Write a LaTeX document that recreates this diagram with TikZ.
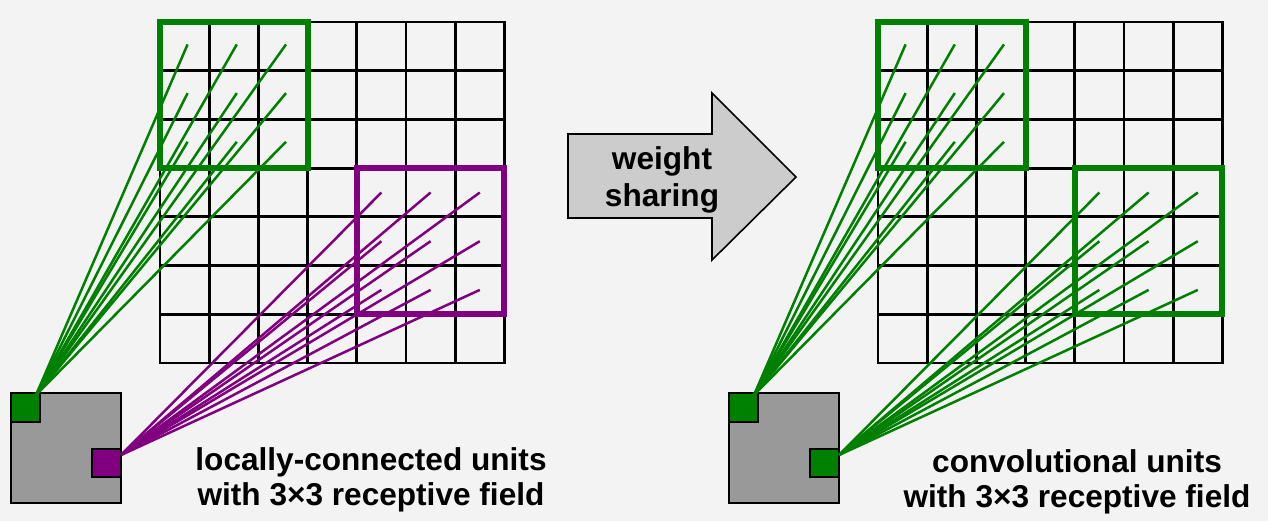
\documentclass[tikz,border=0pt]{standalone}
\usepackage{fontspec}
\setmainfont{Liberation Sans}
\usepackage{tikz}
\definecolor{paper}{RGB}{243, 243, 243}
\definecolor{leafgreen}{RGB}{0, 128, 0}
\definecolor{plum}{RGB}{128, 0, 128}
\definecolor{mapgray}{RGB}{153, 153, 153}
\definecolor{arrowgray}{RGB}{204, 204, 204}

\begin{document}
\begin{tikzpicture}[x=0.5pt, y=-0.5pt,
        gridline/.style = {black, line width=1.4pt, line cap=rect},
        field/.style    = {line width=3pt, line cap=rect},
        wire/.style     = {line width=1.25pt},
        unit/.style     = {draw=black, line width=1.2pt},
        caption/.style  = {font=\fontsize{15.8}{17.5}\selectfont\bfseries, align=center, inner sep=0pt}]
            \fill[paper] (0.0, 0.0) rectangle (1268.0, 521.0);

            % locally-connected units
            \begin{scope}
                \foreach \k in {0,...,7} {
                    \draw[gridline] (160+49.2*\k, 22.0) -- (160+49.2*\k, 362.9);
                    \draw[gridline] (160.0, 22+48.7*\k) -- (504.4, 22+48.7*\k);
                }
                \filldraw[unit, fill=mapgray]   ( 11.0, 393.0) rectangle (121.0, 503.0);
                \filldraw[unit, fill=leafgreen] ( 11.0, 393.0) rectangle ( 40.0, 422.0);
                \filldraw[unit, fill=plum]      ( 92.0, 449.0) rectangle (121.0, 477.0);
                \coordinate (srcLa) at ( 36.0, 395.0);
                \coordinate (srcLb) at (121.0, 455.0);
                \draw[field, leafgreen] (160.0,  22.0) rectangle (307.6, 168.1);
                \draw[field, plum]      (356.8, 168.1) rectangle (504.4, 314.2);
                \foreach \i in {0,1,2} \foreach \j in {0,1,2} {
                    \coordinate (fLa-\i-\j) at (187.6+49.2*\i,  44.4+48.7*\j);
                    \draw[wire, leafgreen] (srcLa) -- (fLa-\i-\j);
                    \coordinate (fLb-\i-\j) at (381.4+49.2*\i, 192.5+48.7*\j);
                    \draw[wire, plum] (srcLb) -- (fLb-\i-\j);
                }
            \end{scope}

            % convolutional units
            \begin{scope}[shift={(718,0)}]
                \foreach \k in {0,...,7} {
                    \draw[gridline] (160+49.2*\k, 22.0) -- (160+49.2*\k, 362.9);
                    \draw[gridline] (160.0, 22+48.7*\k) -- (504.4, 22+48.7*\k);
                }
                \filldraw[unit, fill=mapgray]   ( 11.0, 393.0) rectangle (121.0, 503.0);
                \filldraw[unit, fill=leafgreen] ( 11.0, 393.0) rectangle ( 40.0, 422.0);
                \filldraw[unit, fill=leafgreen] ( 92.0, 449.0) rectangle (121.0, 477.0);
                \coordinate (srcRa) at ( 36.0, 395.0);
                \coordinate (srcRb) at (121.0, 455.0);
                \draw[field, leafgreen] (160.0,  22.0) rectangle (307.6, 168.1);
                \draw[field, leafgreen] (356.8, 168.1) rectangle (504.4, 314.2);
                \foreach \i in {0,1,2} \foreach \j in {0,1,2} {
                    \coordinate (fRa-\i-\j) at (187.6+49.2*\i,  44.4+48.7*\j);
                    \draw[wire, leafgreen] (srcRa) -- (fRa-\i-\j);
                    \coordinate (fRb-\i-\j) at (381.4+49.2*\i, 192.5+48.7*\j);
                    \draw[wire, leafgreen] (srcRb) -- (fRb-\i-\j);
                }
            \end{scope}

            % weight sharing arrow
            \filldraw[draw=black, fill=arrowgray, line width=0.8pt]
                (568.0, 134.0) -- (712.0, 134.0) -- (712.0,  93.0) -- (796.0, 177.0)
                -- (712.0, 260.0) -- (712.0, 218.0) -- (568.0, 218.0) -- cycle;
            \node[caption, font=\fontsize{15.8}{18.5}\selectfont\bfseries] (share) at (662.0, 180.0) {weight\\sharing};

            \node[caption] (capL) at ( 371.0, 480.0) {locally-connected units\\with 3×3 receptive field};
            \node[caption] (capR) at (1077.0, 482.0) {convolutional units\\with 3×3 receptive field};
        \end{tikzpicture}
\end{document}
